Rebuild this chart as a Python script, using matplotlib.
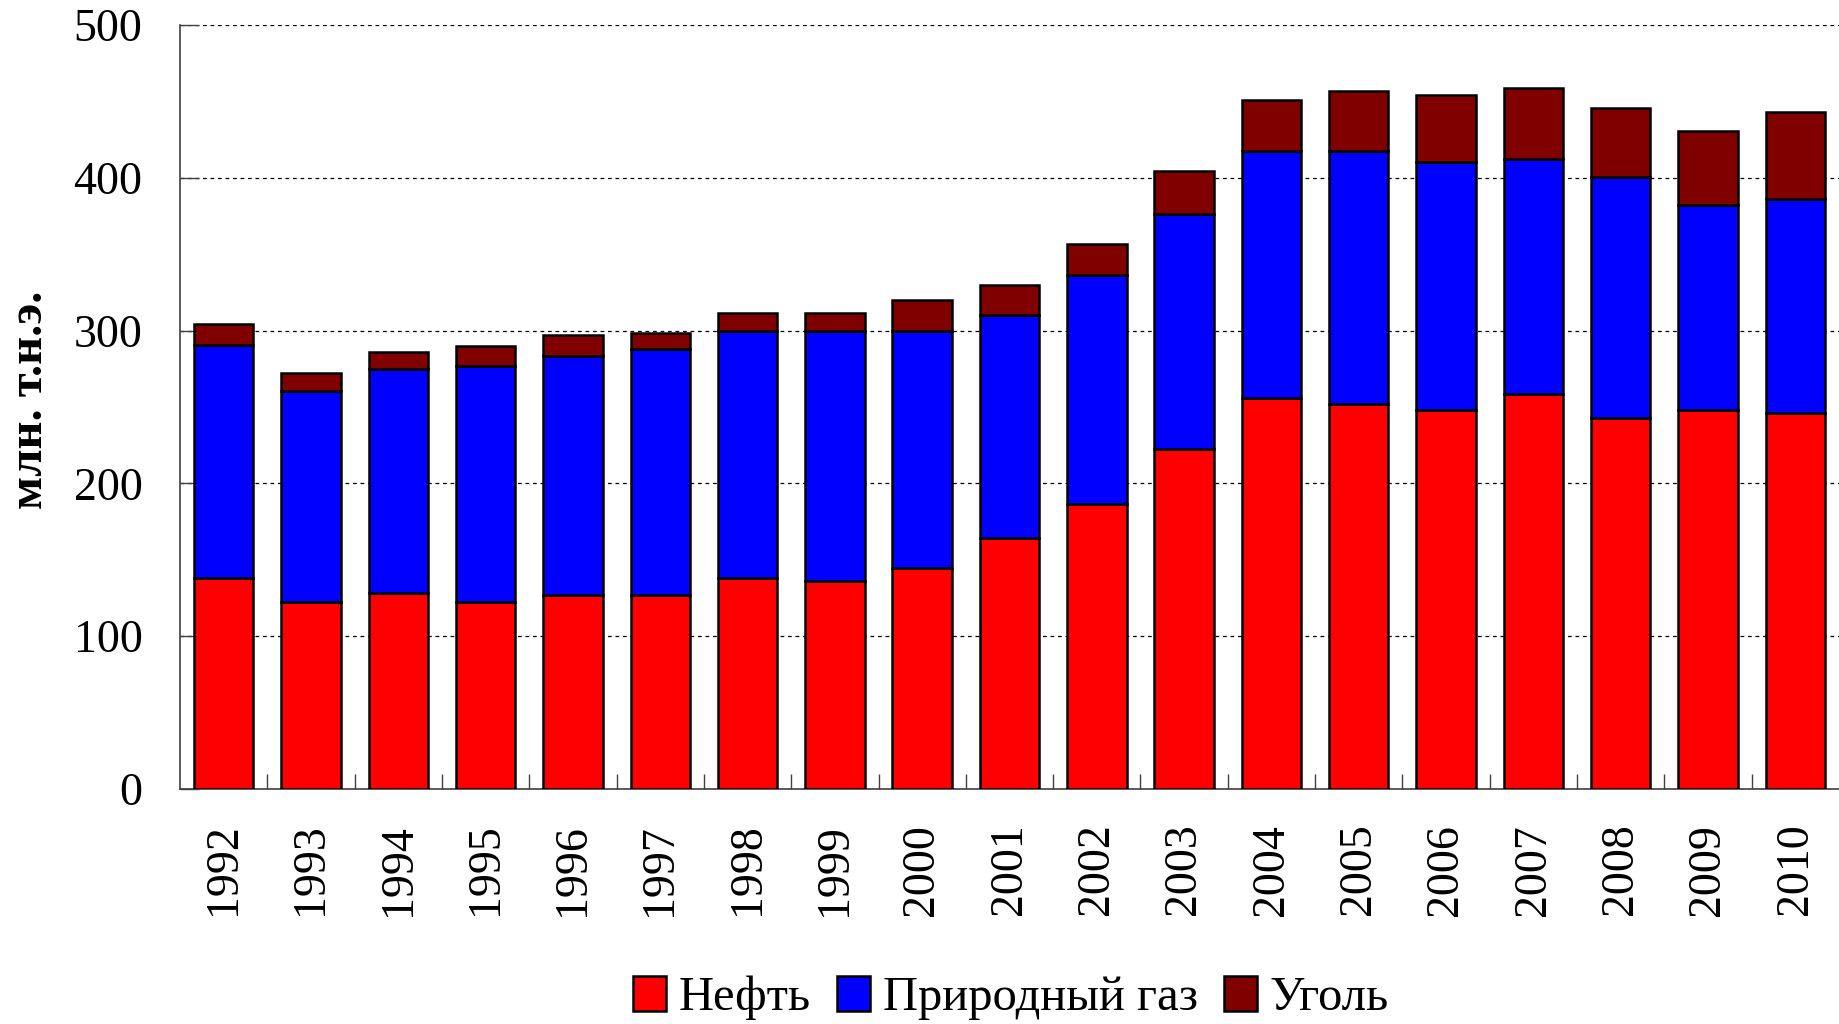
import matplotlib
matplotlib.use("Agg")
import matplotlib.pyplot as plt
import numpy as np

years = ["1992", "1993", "1994", "1995", "1996", "1997", "1998", "1999", "2000",
         "2001", "2002", "2003", "2004", "2005", "2006", "2007", "2008", "2009", "2010"]
oil = [138, 122.6, 128.4, 122.6, 126.7, 126.7, 138, 136.3, 144.9, 164.4, 186.6,
       222.6, 256.2, 251.7, 248, 258.6, 242.5, 248, 245.9]
gas = [152.4, 138, 146.6, 154.1, 156.9, 161.3, 162, 163.7, 155.1, 145.6, 150,
       153.8, 161.6, 166.1, 162.6, 153.7, 157.8, 134.2, 140.1]
coal = [13.6, 11.7, 11.3, 13.3, 13.4, 10.6, 11.6, 11.6, 20.2, 19.8, 20.2,
        28.1, 33.2, 38.7, 43.9, 46.3, 45.7, 48.6, 56.8]
series_names = ["Нефть", "Природный газ", "Уголь"]
y_ticks = [0, 100, 200, 300, 400, 500]
y_label = "млн. т.н.э."

colors = ["#FF0000", "#0000FF", "#800000"]

plt.rcParams['font.family'] = ['Liberation Serif', 'DejaVu Serif']

fig = plt.figure(figsize=(18.39, 10.24), dpi=100)
ax = fig.add_axes([180 / 1839, 1 - 789 / 1024, 1 - 180 / 1839, (789 - 25) / 1024])

x = np.arange(len(years))
w = 0.68
bottoms = np.zeros(len(years))
handles = []
for vals, col, name in zip([oil, gas, coal], colors, series_names):
    b = ax.bar(x, vals, width=w, bottom=bottoms, color=col, edgecolor="black",
               linewidth=1.8, label=name, zorder=3)
    handles.append(b)
    bottoms = bottoms + np.array(vals)

ax.set_xlim(-0.5, len(years) - 0.5)
ax.set_ylim(0, 500)
ax.set_yticks(y_ticks)
ax.set_yticklabels([str(v) for v in y_ticks], fontsize=33)
ax.tick_params(axis='y', direction='in', length=14, width=1, pad=27, color="#404040")

ax.set_xticks(x)
ax.set_xticklabels(years, rotation=90, fontsize=33)
ax.tick_params(axis='x', which='major', length=0, pad=25)
ax.set_xticks(np.arange(0.5, len(years) - 1, 1.0), minor=True)
ax.tick_params(axis='x', which='minor', direction='in', length=11, width=1, color="#404040")

ax.yaxis.grid(True, color="black", linestyle=(0, (3, 3)), linewidth=0.9, zorder=0)
ax.set_axisbelow(True)

for s in ["top", "right"]:
    ax.spines[s].set_visible(False)
for s in ["left", "bottom"]:
    ax.spines[s].set_color("#404040")
    ax.spines[s].set_linewidth(1.2)

fig.text(30 / 1839, 1 - 400 / 1024, y_label, rotation=90, ha="center", va="center",
         fontsize=35, fontweight="bold")

leg = fig.legend(handles=handles, labels=series_names, loc="center",
                 bbox_to_anchor=(1011 / 1839, 1 - 998 / 1024), ncol=3, frameon=False,
                 fontsize=35, handlelength=0.68, handleheight=0.72,
                 handletextpad=0.25, columnspacing=0.55, borderpad=0)

fig.savefig("out.png", dpi=100)
